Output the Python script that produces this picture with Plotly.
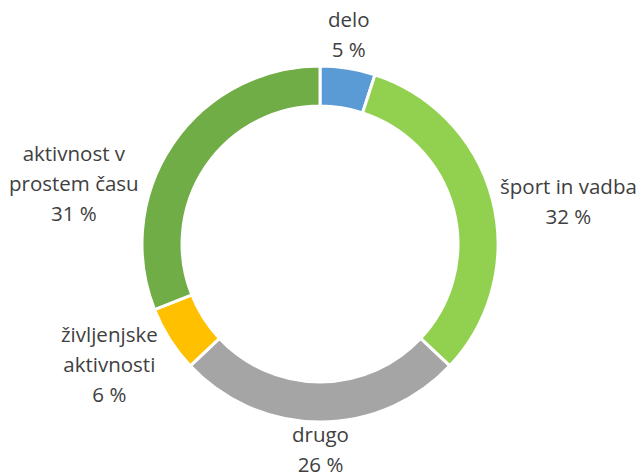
import math
import plotly.graph_objects as go

categories = ["delo", "šport in vadba", "drugo", "življenjske aktivnosti", "aktivnost v prostem času"]
values = [5, 32, 26, 6, 31]
label_lines = [["delo"], ["šport in vadba"], ["drugo"], ["življenjske", "aktivnosti"], ["aktivnost v", "prostem času"]]
colors = ["#5B9BD5", "#92D050", "#A5A5A5", "#FFC000", "#70AD47"]

W, H = 641, 475
cx, cy, R = 320, 244, 178
hole = 0.775

fig = go.Figure(go.Pie(
    labels=categories, values=values, sort=False, direction="clockwise", rotation=0,
    hole=hole, marker=dict(colors=colors, line=dict(color="white", width=3)),
    textinfo="none", hoverinfo="label+percent", showlegend=False,
    domain=dict(x=[(cx - R) / W, (cx + R) / W], y=[(H - cy - R) / H, (H - cy + R) / H]),
))

total = sum(values)
# small nudges (px) to mimic Excel best-fit label placement
nudge = {0: (-1, 9), 1: (-6, 4), 2: (0, -16), 3: (0, 18), 4: (-22, 46)}
cum = 0
for i, v in enumerate(values):
    mid = (cum + v / 2) / total * 2 * math.pi
    cum += v
    r = R + 12
    x = cx + r * math.sin(mid) + nudge[i][0]
    y = cy - r * math.cos(mid) + nudge[i][1]
    s = math.sin(mid)
    c = math.cos(mid)
    if abs(s) < 0.3:
        xa = "center"
        ya = "bottom" if c > 0 else "top"
    else:
        xa = "left" if s > 0 else "right"
        ya = "middle"
    pct = round(v / total * 100)
    lines = label_lines[i] + [f"{pct} %"]
    txt = "<br>".join(f'<span style="font-size:20.5px">{l}</span>' for l in lines)
    fig.add_annotation(x=x / W, y=1 - y / H, xref="paper", yref="paper", text=txt,
                       showarrow=False, xanchor=xa, yanchor=ya, align="center",
                       font=dict(family="Open Sans", size=23, color="#404040"))

fig.update_layout(width=W, height=H, margin=dict(l=0, r=0, t=0, b=0),
                  paper_bgcolor="white", plot_bgcolor="white")
fig.write_html("out.html", config={"displayModeBar": False},
               post_script="document.body.style.margin='0';")
